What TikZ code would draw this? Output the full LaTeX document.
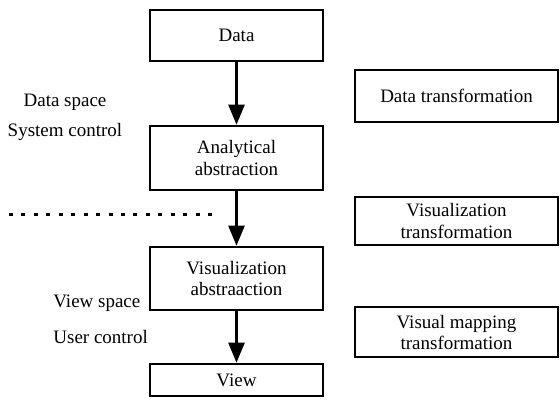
\documentclass[tikz,border=0pt]{standalone}
\usepackage{fontspec}
\setmainfont{LiberationSerif}[Extension=.ttf, UprightFont=*-Regular, BoldFont=*-Bold]
\usetikzlibrary{arrows.meta, positioning}

\tikzset{
    box/.style={draw, line width=1.3pt, align=center, inner sep=0pt,
        font=\fontsize{9.5}{10.5}\selectfont},
    flowbox/.style={box, minimum width=86.5pt},
    stepinfo/.style={box, minimum width=101.5pt},
    sidelabel/.style={inner sep=0pt, font=\fontsize{9.5}{10.5}\selectfont},
    flow/.style={line width=1.2pt, -{Triangle[width=8pt,length=10pt]}}
}

\begin{document}
\begin{tikzpicture}[x=0.5pt, y=-0.5pt] % coordinates in pixels of the reference
    \useasboundingbox (0,0) rectangle (560,406);

    % Boxes of the pipeline
    \node[flowbox, minimum height=25.5pt] (data) at (236.5,35.5) {Data};
    \node[flowbox, minimum height=32pt] (ana) at (236.5,158) {Analytical\\abstraction};
    \node[flowbox, minimum height=31.5pt] (visabs) at (236.5,278.5) {Visualization\\abstraaction};
    \node[flowbox, minimum height=16pt] (view) at (236.5,380) {View};

    % Arrows between the boxes
    \draw[flow] (data) -- (ana);
    \draw[flow] (ana) -- (visabs);
    \draw[flow] (visabs) -- (view);

    % Transformations on the right
    \node[stepinfo, minimum height=26pt] (datatr) at (456.5,96) {Data transformation};
    \node[stepinfo, minimum height=24pt] (vistr) at (456.5,221) {Visualization\\transformation};
    \node[stepinfo, minimum height=25pt] (maptr) at (456.5,332) {Visual mapping\\transformation};

    % Labels on the left
    \node[sidelabel] (dspace) at (65,102) {Data space};
    \node[sidelabel] (sysctrl) at (65,132) {System control};
    \node[sidelabel, anchor=west] (vspace) at (53,303) {View space};
    \node[sidelabel, anchor=west] (usrctrl) at (53,337) {User control};

    % Separator
    \coordinate (sepL) at (9,214);
    \coordinate (sepR) at (213,214);
    \draw[line width=1.5pt, dash pattern=on 2pt off 4.22pt] (sepL) -- (sepR);
\end{tikzpicture}
\end{document}
